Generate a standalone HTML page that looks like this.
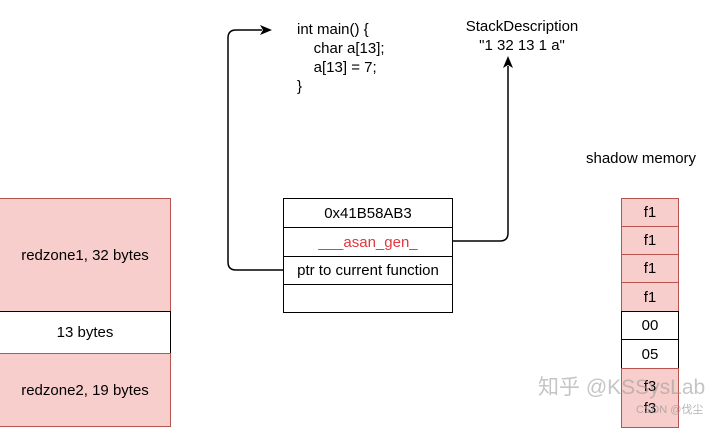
<!DOCTYPE html>
<html><head><meta charset="utf-8"><style>
body{margin:0;width:720px;height:425px;background:#fff;overflow:hidden;position:relative;font-family:"Liberation Sans","Noto Sans CJK SC",sans-serif;}
.b{position:absolute;box-sizing:border-box;display:flex;align-items:center;justify-content:center;font-size:15px;color:#000;}
.p{background:#f8cecc;border:1px solid #b85450;}
.w{background:#fff;border:1px solid #000;}
.t{position:absolute;font-size:15px;line-height:19px;}
</style></head><body>
<div class="b p" style="left:-1px;top:198px;width:172px;height:114px">redzone1, 32 bytes</div>
<div class="b w" style="left:-1px;top:311px;width:172px;height:43px">13 bytes</div>
<div class="b p" style="left:-1px;top:353px;width:172px;height:74px">redzone2, 19 bytes</div>

<div class="b w" style="left:283px;top:198px;width:170px;height:30px">0x41B58AB3</div>
<div class="b w" style="left:283px;top:227px;width:170px;height:30px;color:#e0383e">___asan_gen_</div>
<div class="b w" style="left:283px;top:256px;width:170px;height:29px">ptr to current function</div>
<div class="b w" style="left:283px;top:284px;width:170px;height:29px"></div>

<div class="t" style="left:297px;top:20px">int main() {<br>&nbsp;&nbsp;&nbsp;&nbsp;char a[13];<br>&nbsp;&nbsp;&nbsp;&nbsp;a[13] = 7;<br>}</div>
<div class="t" style="left:455px;top:17px;width:134px;text-align:center;font-size:15px">StackDescription<br>"1 32 13 1 a"</div>
<div class="t" style="left:586px;top:149px;font-size:15px">shadow memory</div>

<div class="b p" style="left:621px;top:198px;width:58px;height:29px">f1</div>
<div class="b p" style="left:621px;top:226px;width:58px;height:29px">f1</div>
<div class="b p" style="left:621px;top:254px;width:58px;height:29px">f1</div>
<div class="b p" style="left:621px;top:282px;width:58px;height:30px">f1</div>
<div class="b w" style="left:621px;top:311px;width:58px;height:29px">00</div>
<div class="b w" style="left:621px;top:339px;width:58px;height:30px">05</div>
<div class="b p" style="left:621px;top:368px;width:58px;height:60px;flex-direction:column;line-height:22px">f3<br>f3</div>

<div class="t" style="left:538px;top:378px;font-size:21px;color:rgba(150,150,150,.55)">知乎 @KSSysLab</div>
<div class="t" style="left:636px;top:401px;font-size:11px;color:rgba(150,150,150,.7)">CSDN @伐尘</div>

<svg width="720" height="425" style="position:absolute;left:0;top:0">
<path d="M283 270 H236 Q228 270 228 262 V38 Q228 30 236 30 H262" fill="none" stroke="#000" stroke-width="1.5"/>
<polygon points="272,30 260,25 263,30 260,35" fill="#000"/>
<path d="M453 241 H500 Q508 241 508 233 V66" fill="none" stroke="#000" stroke-width="1.5"/>
<polygon points="508,56 503,68 508,65 513,68" fill="#000"/>
</svg>
</body></html>
